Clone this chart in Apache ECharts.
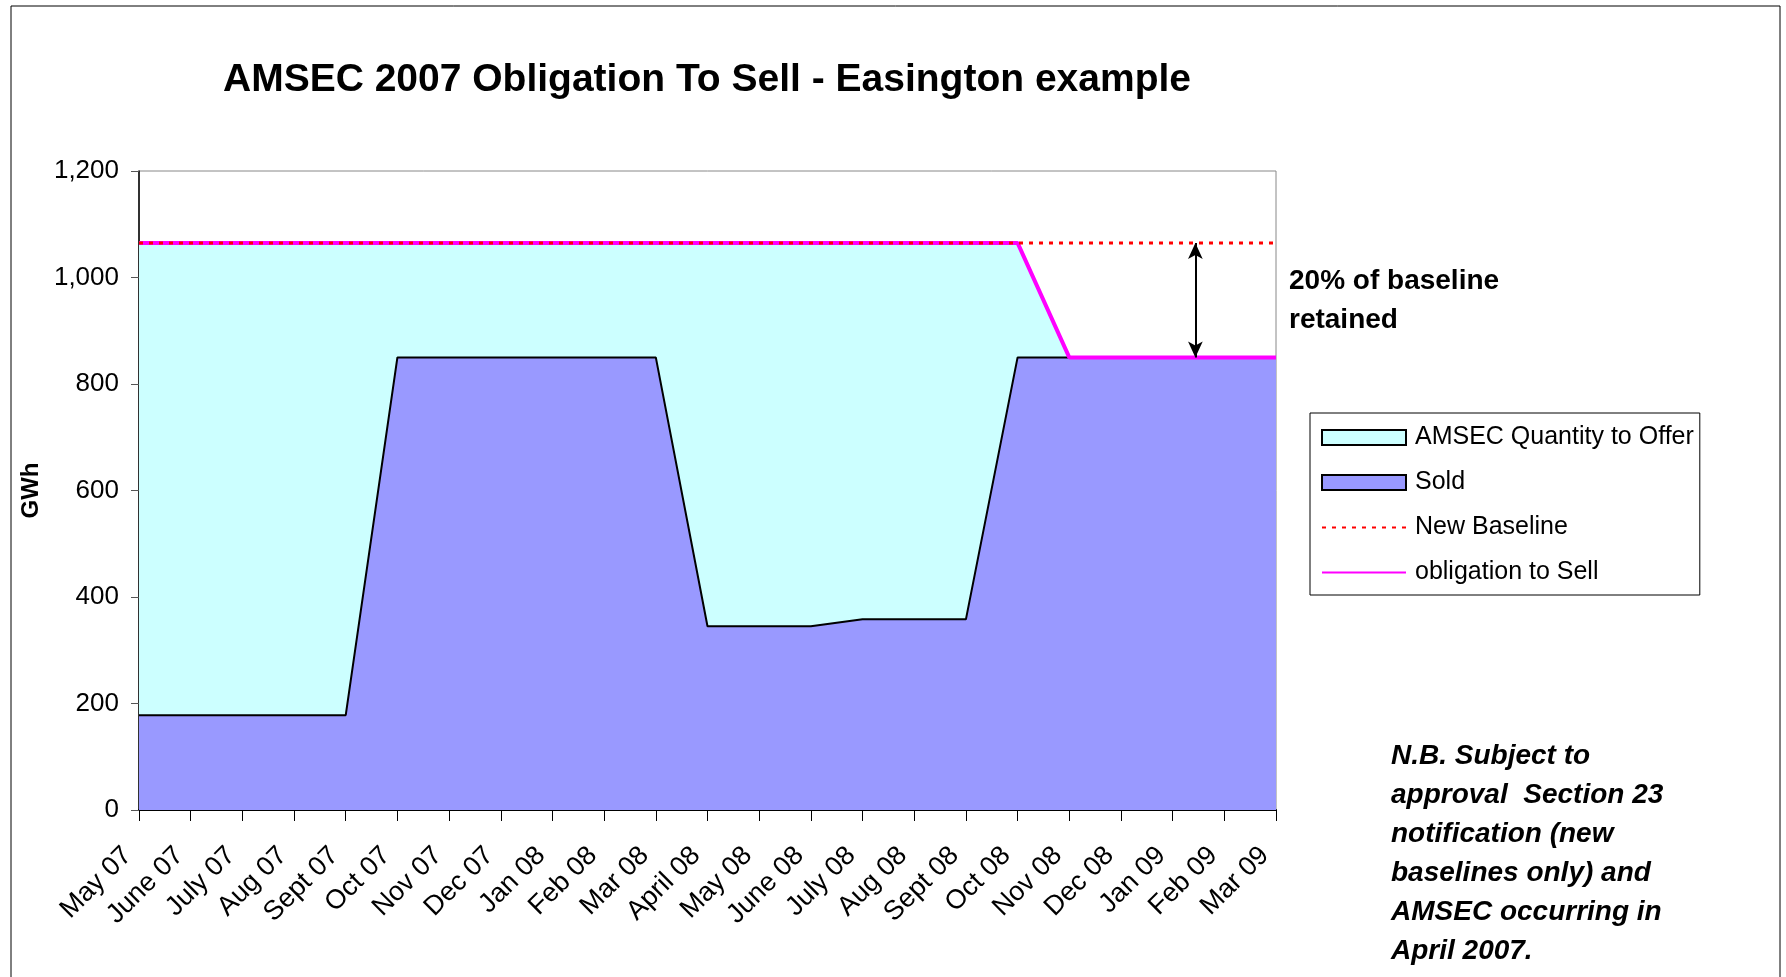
<!DOCTYPE html>
<html>
<head>
<meta charset="utf-8">
<title>AMSEC 2007 Obligation To Sell - Easington example</title>
<script src="https://cdn.jsdelivr.net/npm/echarts@6/dist/echarts.min.js"></script>
<style>
  html, body { margin: 0; padding: 0; background: #fff; }
  #chart { width: 1786px; height: 977px; }
</style>
</head>
<body>
<div id="chart"></div>
<script>
// months on the x axis
var months = ['May 07', 'June 07', 'July 07', 'Aug 07', 'Sept 07', 'Oct 07', 'Nov 07', 'Dec 07',
  'Jan 08', 'Feb 08', 'Mar 08', 'April 08', 'May 08', 'June 08', 'July 08', 'Aug 08', 'Sept 08',
  'Oct 08', 'Nov 08', 'Dec 08', 'Jan 09', 'Feb 09', 'Mar 09'];

// GWh values
var quantityToOffer = [1065, 1065, 1065, 1065, 1065, 1065, 1065, 1065, 1065, 1065, 1065, 1065,
  1065, 1065, 1065, 1065, 1065, 1065, 850, 850, 850, 850, 850];
var sold = [178, 178, 178, 178, 178, 850, 850, 850, 850, 850, 850, 345, 345, 345,
  358, 358, 358, 850, 850, 850, 850, 850, 850];
var newBaseline = [1065, 1065, 1065, 1065, 1065, 1065, 1065, 1065, 1065, 1065, 1065, 1065,
  1065, 1065, 1065, 1065, 1065, 1065, 1065, 1065, 1065, 1065, 1065];
var obligationToSell = [1065, 1065, 1065, 1065, 1065, 1065, 1065, 1065, 1065, 1065, 1065, 1065,
  1065, 1065, 1065, 1065, 1065, 1065, 850, 850, 850, 850, 850];

// the "20% retained" arrow: x position (in month index) and its two ends
var arrowX = 20.44;
var arrowEnds = [1065, 850];

var FONT = '"Liberation Sans", Arial, sans-serif';

var myChart = echarts.init(document.getElementById('chart'));

var option = {
  animation: false,
  backgroundColor: '#fff',
  textStyle: { fontFamily: FONT, color: '#000' },
  title: {
    text: 'AMSEC 2007 Obligation To Sell - Easington example',
    left: 218,
    top: 56,
    textStyle: { fontFamily: FONT, fontSize: 39, fontWeight: 'bold', color: '#000' }
  },
  grid: {
    left: 139, right: 510, top: 171, bottom: 167,
    show: true, borderColor: '#888', borderWidth: 1, backgroundColor: '#fff',
    containLabel: false,
    outerBoundsMode: 'none'
  },
  legend: {
    orient: 'vertical',
    left: 1310,
    top: 413,
    padding: [12, 6, 10, 11],
    borderColor: '#000',
    borderWidth: 1,
    itemWidth: 84,
    itemHeight: 15,
    itemGap: 20,
    textStyle: { fontFamily: FONT, fontSize: 25, color: '#000', lineHeight: 25, padding: [0, 0, 0, 4] },
    data: [
      { name: 'AMSEC Quantity to Offer', icon: 'rect',
        itemStyle: { color: '#CCFFFF', borderColor: '#000', borderWidth: 2 } },
      { name: 'Sold', icon: 'rect',
        itemStyle: { color: '#9999FF', borderColor: '#000', borderWidth: 2 } },
      { name: 'New Baseline', itemStyle: { opacity: 0 } },
      { name: 'obligation to Sell', itemStyle: { opacity: 0 } }
    ]
  },
  xAxis: [{
    type: 'category',
    data: months,
    boundaryGap: false,
    axisLine: { lineStyle: { color: '#000', width: 2 } },
    axisTick: { show: true, length: 11, interval: 0, lineStyle: { color: '#000', width: 1 } },
    axisLabel: {
      interval: 0, rotate: 45, margin: 30, padding: [0, 16, 0, 0],
      fontFamily: FONT, fontSize: 27, color: '#000'
    },
    splitLine: { show: false }
  }, {
    // helper axis to place the arrow between two months
    type: 'value',
    min: 0,
    max: months.length - 1,
    show: false
  }],
  yAxis: {
    type: 'value',
    min: 0,
    max: 1200,
    interval: 200,
    name: 'GWh',
    nameLocation: 'middle',
    nameRotate: 90,
    nameGap: 92,
    nameTextStyle: { fontFamily: FONT, fontSize: 24, fontWeight: 'bold', color: '#000' },
    axisLine: { show: true, lineStyle: { color: '#000', width: 1.5 } },
    axisTick: { show: true, length: 8, lineStyle: { color: '#555' } },
    axisLabel: {
      margin: 20, fontFamily: FONT, fontSize: 26, color: '#000',
      formatter: function (v) { return v.toLocaleString('en-US'); }
    },
    splitLine: { show: false }
  },
  series: [
    {
      name: 'AMSEC Quantity to Offer',
      type: 'line',
      data: quantityToOffer,
      symbol: 'none',
      itemStyle: { color: '#CCFFFF' },
      lineStyle: { width: 0 },
      areaStyle: { color: '#CCFFFF', opacity: 1 },
      z: 1
    },
    {
      name: 'Sold',
      type: 'line',
      data: sold,
      symbol: 'none',
      itemStyle: { color: '#9999FF' },
      lineStyle: { color: '#000', width: 2 },
      areaStyle: { color: '#9999FF', opacity: 1 },
      z: 2
    },
    {
      name: 'obligation to Sell',
      type: 'line',
      data: obligationToSell,
      symbol: 'none',
      itemStyle: { color: '#FF00FF' },
      lineStyle: { color: '#FF00FF', width: 4 },
      z: 3
    },
    {
      name: 'New Baseline',
      type: 'line',
      data: newBaseline,
      symbol: 'none',
      itemStyle: { color: '#FF0000' },
      lineStyle: { color: '#FF0000', width: 3, type: [4, 6] },
      z: 4
    },
    {
      name: 'arrow',
      type: 'line',
      xAxisIndex: 1,
      data: [],
      markLine: {
        silent: true,
        symbol: ['arrow', 'arrow'],
        symbolSize: [11, 16],
        label: { show: false },
        lineStyle: { color: '#000', width: 2, type: 'solid' },
        data: [[{ coord: [arrowX, arrowEnds[0]] }, { coord: [arrowX, arrowEnds[1]] }]]
      },
      z: 5
    }
  ],
  graphic: [
    {
      type: 'rect',
      shape: { x: 11, y: 6, width: 1769, height: 1000 },
      style: { fill: 'none', stroke: '#000', lineWidth: 1 },
      silent: true
    },
    {
      type: 'text',
      left: 1289,
      top: 262,
      style: {
        text: '20% of baseline\nretained',
        fontFamily: FONT, fontSize: 28, fontWeight: 'bold', lineHeight: 39, fill: '#000'
      }
    },
    {
      type: 'text',
      left: 1391,
      top: 737,
      style: {
        text: 'N.B. Subject to\napproval  Section 23\nnotification (new\nbaselines only) and\nAMSEC occurring in\nApril 2007.',
        fontFamily: FONT, fontSize: 28, fontWeight: 'bold', fontStyle: 'italic',
        lineHeight: 39, fill: '#000'
      }
    }
  ]
};

myChart.setOption(option);
</script>
</body>
</html>
